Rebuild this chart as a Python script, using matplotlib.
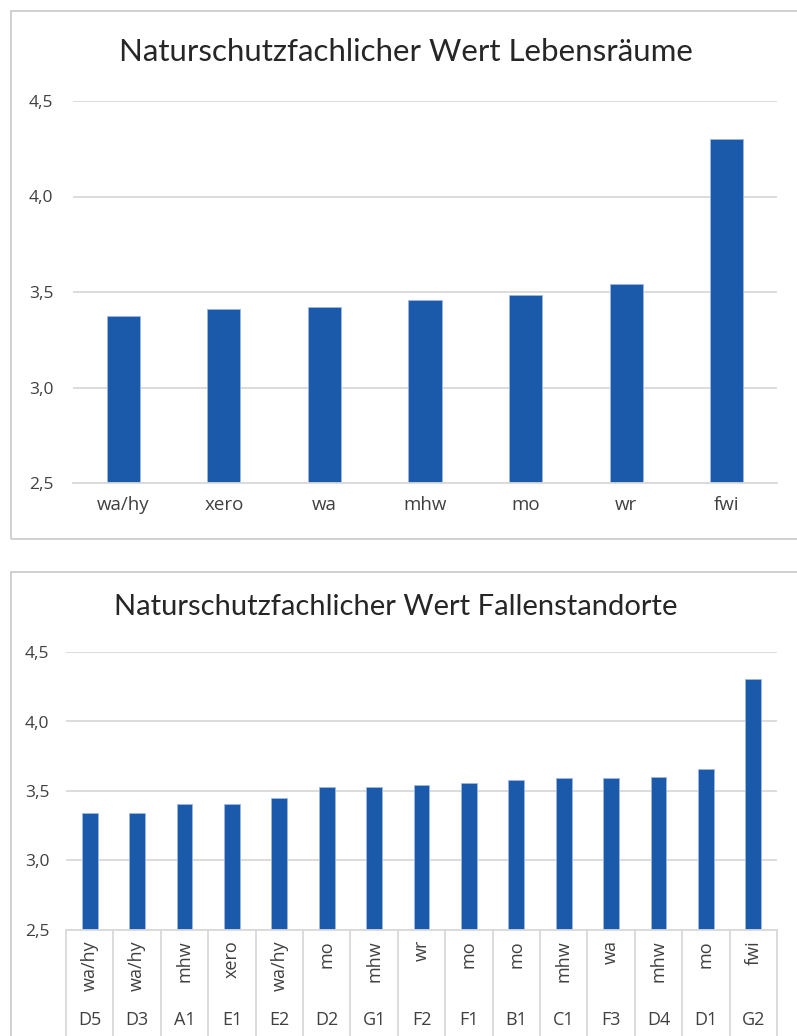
import numpy as np
import matplotlib.pyplot as plt
from matplotlib.patches import Rectangle
from matplotlib.transforms import blended_transform_factory

plt.rcParams['font.family'] = ['Open Sans', 'DejaVu Sans']

# top chart: habitats
habitats = ['wa/hy', 'xero', 'wa', 'mhw', 'mo', 'wr', 'fwi']
habitat_values = [3.375, 3.41, 3.42, 3.457, 3.486, 3.544, 4.30]

# bottom chart: trap sites
site_habitats = ['wa/hy', 'wa/hy', 'mhw', 'xero', 'wa/hy', 'mo', 'mhw', 'wr',
                 'mo', 'mo', 'mhw', 'wa', 'mhw', 'mo', 'fwi']
site_ids = ['D5', 'D3', 'A1', 'E1', 'E2', 'D2', 'G1', 'F2',
            'F1', 'B1', 'C1', 'F3', 'D4', 'D1', 'G2']
site_values = [3.343, 3.343, 3.41, 3.41, 3.448, 3.53, 3.53, 3.543,
               3.555, 3.577, 3.59, 3.59, 3.60, 3.66, 4.305]

yticks = [2.5, 3.0, 3.5, 4.0, 4.5]

W, H = 797, 1036
BAR = '#1b59ab'
GRID = '#d9d9d9'
TXT = '#404040'

fig = plt.figure(figsize=(W / 100, H / 100), dpi=100)


def px_axes(l, t, r, b):
    return fig.add_axes([l / W, 1 - b / H, (r - l) / W, (b - t) / H])


def style(ax, n, pad):
    ax.set_ylim(2.5, 4.5)
    ax.set_xlim(-0.5, n - 0.5)
    ax.set_yticks(yticks)
    ax.set_yticklabels([f'{v:.1f}'.replace('.', ',') for v in yticks],
                       color=TXT, fontsize=12.5)
    ax.grid(axis='y', color=GRID, lw=1.3)
    ax.set_axisbelow(True)
    for s in ax.spines.values():
        s.set_visible(False)
    ax.spines['bottom'].set_visible(True)
    ax.spines['bottom'].set_color(GRID)
    ax.spines['bottom'].set_linewidth(1.3)
    ax.tick_params(axis='y', length=0, pad=pad)
    ax.tick_params(axis='x', length=0)


# frames
fig.patches.append(Rectangle((11 / W, 1 - 539 / H), 790 / W, 528 / H,
                             transform=fig.transFigure, fill=False,
                             ec='#c8c8c8', lw=1.2))
fig.patches.append(Rectangle((11 / W, -0.05), 790 / W, 0.05 + (1036 - 572) / H,
                             transform=fig.transFigure, fill=False,
                             ec='#c8c8c8', lw=1.2))

# top chart
ax1 = px_axes(73, 101, 777, 483)
x1 = np.arange(len(habitats))
ax1.bar(x1, habitat_values, width=0.33, color=BAR, edgecolor='#9db8e0', lw=0.6)
style(ax1, len(habitats), 14)
ax1.set_xticks(x1)
ax1.set_xticklabels(habitats, color=TXT, fontsize=13.5)
ax1.tick_params(axis='x', pad=9)
fig.text(406 / W, 1 - 52 / H, 'Naturschutzfachlicher Wert Lebensräume',
         ha='center', va='center', fontsize=22.5, color='#262626',
         family=['Lato', 'DejaVu Sans'])

# bottom chart
ax2 = px_axes(66, 652, 777, 930)
x2 = np.arange(len(site_ids))
ax2.bar(x2, site_values, width=0.33, color=BAR, edgecolor='#9db8e0', lw=0.6)
style(ax2, len(site_ids), 12)
ax2.set_xticks([])
fig.text(396 / W, 1 - 607 / H, 'Naturschutzfachlicher Wert Fallenstandorte',
         ha='center', va='center', fontsize=21, color='#262626',
         family=['Lato', 'DejaVu Sans'])

tr = blended_transform_factory(ax2.transData, ax2.transAxes)
ph = 930 - 652
for i in range(len(site_ids) + 1):
    ax2.plot([i - 0.5, i - 0.5], [0, -(1040 - 930) / ph], transform=tr,
             color=GRID, lw=1.3, clip_on=False)
for i, (h, s) in enumerate(zip(site_habitats, site_ids)):
    ax2.text(i, -(940 - 930) / ph, h, transform=tr, rotation=90,
             ha='center', va='top', fontsize=13, color=TXT)
    ax2.text(i, -(1020 - 930) / ph, s, transform=tr,
             ha='center', va='center', fontsize=13, color=TXT)

fig.savefig('out.png', dpi=100)
